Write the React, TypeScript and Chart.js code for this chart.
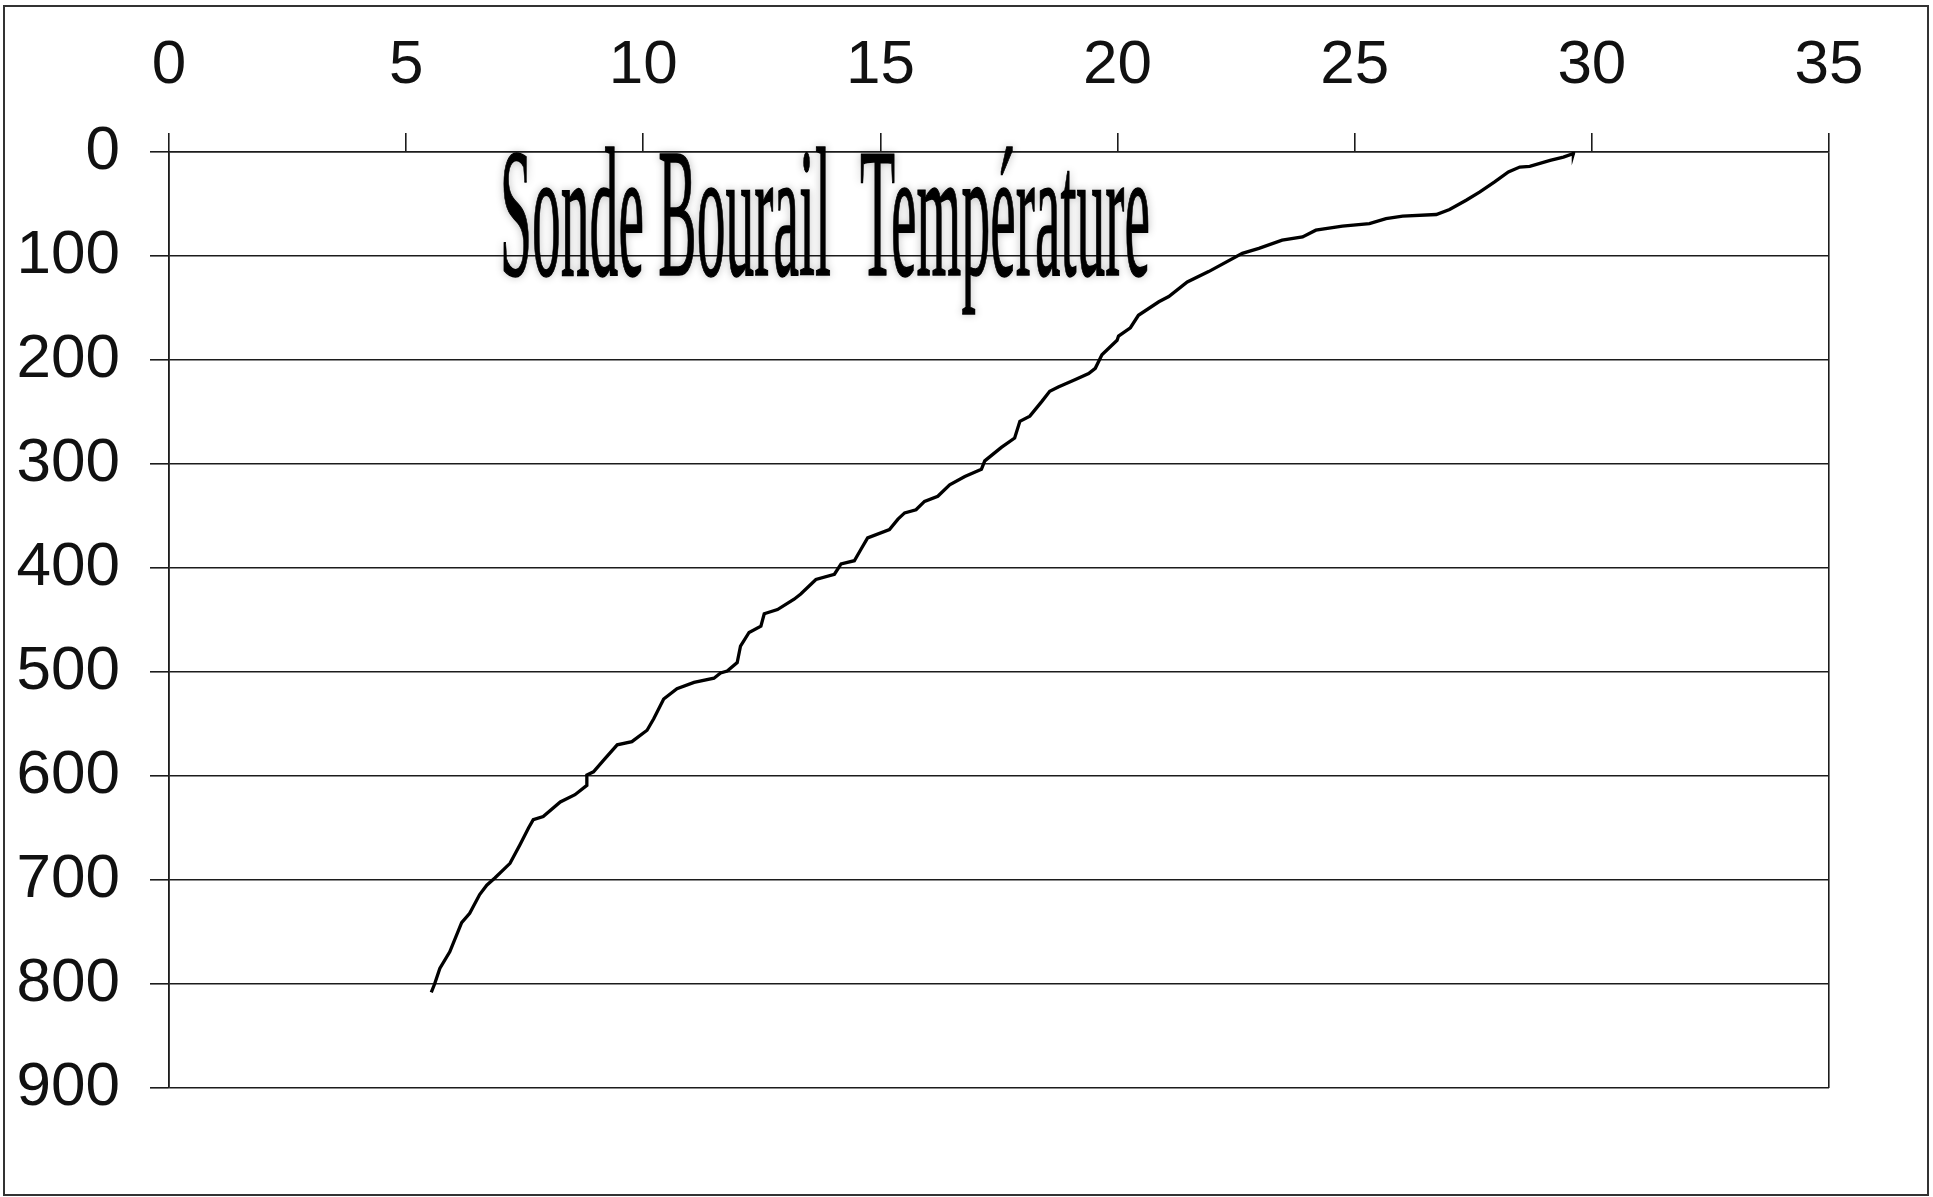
import React, { useEffect, useRef } from "react";
import { Chart, registerables } from "chart.js";

Chart.register(...registerables);

// Depth (m), top to bottom
const depths = [
  0, 1.6, 4.9, 8.0, 13.8, 14.5, 19.2, 28.8, 38.4, 46.4, 55.3, 60.1, 61.7, 64, 68.8, 71.3, 75.2,
  81.6, 84.8, 92.7, 97.5, 115, 125, 139, 144, 157, 169, 177, 181, 195, 208, 213, 219, 226, 230,
  240, 254, 259, 275, 284, 297, 305, 312, 320, 331, 336, 344, 347, 353, 363, 371, 382, 393, 396,
  406, 411, 425, 430, 440, 444, 456, 462, 475, 491, 499, 501, 506, 510, 516, 526, 545, 556, 567,
  570, 585, 596, 599, 609, 618, 625, 639, 642, 650, 666, 684, 698, 705, 714, 732, 741, 769, 785,
  800, 808,
];

// Temperature (°C) at each depth
const temperatures = [
  29.62, 29.61, 29.4, 29.12, 28.69, 28.48, 28.24, 27.95, 27.64, 27.35, 27.0, 26.72, 26.01, 25.66,
  25.31, 24.74, 24.18, 23.9, 23.47, 22.98, 22.63, 21.92, 21.47, 21.08, 20.87, 20.44, 20.27, 20.02,
  19.99, 19.67, 19.53, 19.39, 19.1, 18.75, 18.57, 18.4, 18.15, 17.94, 17.83, 17.55, 17.2, 17.13,
  16.78, 16.46, 16.21, 15.93, 15.75, 15.51, 15.37, 15.19, 14.73, 14.59, 14.45, 14.17, 14.03, 13.64,
  13.32, 13.18, 12.83, 12.55, 12.48, 12.23, 12.05, 11.98, 11.77, 11.63, 11.49, 11.07, 10.71, 10.43,
  10.22, 10.08, 9.76, 9.45, 9.16, 8.95, 8.81, 8.81, 8.56, 8.25, 7.89, 7.68, 7.58, 7.4, 7.19, 6.87,
  6.7, 6.55, 6.34, 6.17, 5.92, 5.71, 5.6, 5.53,
];

const xTickValues = [0, 5, 10, 15, 20, 25, 30, 35];
const yTickValues = [0, 100, 200, 300, 400, 500, 600, 700, 800, 900];
const titleText = "Sonde Bourail  Température";

const W = 1933;
const H = 1197;
const LINE = "#1c1c1c";

const framePlugin = {
  id: "outerFrame",
  afterDraw(chart: any) {
    const ctx = chart.ctx;
    ctx.save();
    ctx.strokeStyle = "#333";
    ctx.lineWidth = 2;
    ctx.strokeRect(4, 6, 1924, 1189);
    ctx.restore();
  },
};

const titlePlugin = {
  id: "condensedTitle",
  afterDatasetsDraw(chart: any) {
    const ctx = chart.ctx;
    ctx.save();
    ctx.font = '184px "Liberation Serif", "Times New Roman", serif';
    ctx.textAlign = "left";
    ctx.textBaseline = "alphabetic";
    const w = ctx.measureText(titleText).width;
    const sx = 650 / w;
    ctx.translate(500, 275);
    ctx.scale(sx, 1);
    ctx.shadowColor = "rgba(0,0,0,0.3)";
    ctx.shadowBlur = 9;
    ctx.fillStyle = "#000";
    ctx.strokeStyle = "#000";
    ctx.lineWidth = 1.5;
    ctx.fillText(titleText, 0, 0);
    ctx.shadowBlur = 0;
    ctx.strokeText(titleText, 0, 0);
    ctx.restore();
  },
};

export default function App() {
  const ref = useRef<HTMLCanvasElement | null>(null);

  useEffect(() => {
    if (!ref.current) return;
    const points = depths.map((d, i) => ({ x: temperatures[i], y: d }));
    const chart = new Chart(ref.current, {
      type: "scatter",
      data: {
        datasets: [
          {
            data: points,
            showLine: true,
            borderColor: "#000",
            borderWidth: 3.3,
            pointRadius: 0,
            tension: 0,
          },
        ],
      },
      options: {
        animation: false,
        responsive: false,
        devicePixelRatio: 1,
        layout: { padding: { left: 0, top: 0, right: 104, bottom: 109 } },
        plugins: { legend: { display: false }, tooltip: { enabled: false }, title: { display: false } },
        scales: {
          x: {
            type: "linear",
            position: "top",
            min: 0,
            max: 35,
            afterBuildTicks: (scale: any) => {
              scale.ticks = xTickValues.map((v) => ({ value: v }));
            },
            afterFit: (scale: any) => {
              scale.height = 152;
            },
            ticks: {
              font: { size: 62, family: '"Liberation Sans", Arial, sans-serif' },
              color: "#111",
              padding: 30,
              maxRotation: 0,
              autoSkip: false,
            },
            grid: {
              color: (c: any) =>
                c.tick && (c.tick.value === 0 || c.tick.value === 35) ? LINE : "rgba(0,0,0,0)",
              tickColor: LINE,
              lineWidth: 1.6,
              tickLength: 19,
            },
            border: { color: LINE, width: 1.6 },
          },
          y: {
            type: "linear",
            reverse: true,
            min: 0,
            max: 900,
            afterBuildTicks: (scale: any) => {
              scale.ticks = yTickValues.map((v) => ({ value: v }));
            },
            afterFit: (scale: any) => {
              scale.width = 169;
            },
            ticks: {
              font: { size: 62, family: '"Liberation Sans", Arial, sans-serif' },
              color: "#111",
              padding: 30,
              autoSkip: false,
            },
            grid: {
              color: LINE,
              tickColor: LINE,
              lineWidth: 1.6,
              tickLength: 19,
            },
            border: { color: LINE, width: 1.6 },
          },
        },
      },
      plugins: [titlePlugin, framePlugin],
    } as any);
    return () => chart.destroy();
  }, []);

  return (
    <div style={{ position: "fixed", left: 0, top: 0, width: W, height: H, background: "#fff" }}>
      <canvas ref={ref} width={W} height={H} style={{ display: "block" }} />
    </div>
  );
}
